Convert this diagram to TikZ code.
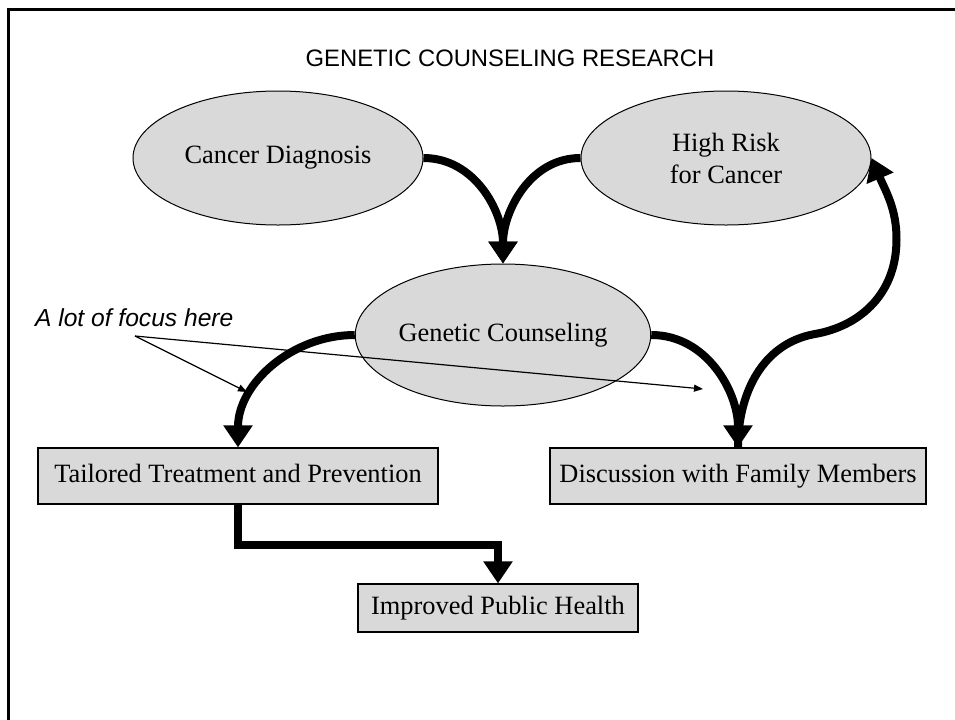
\documentclass[tikz,border=0pt]{standalone}
\usepackage{fontspec}
\setmainfont{Liberation Serif}
\setsansfont{Liberation Sans}
\usetikzlibrary{arrows.meta,shapes.geometric,calc}
\definecolor{boxgray}{RGB}{217,217,217}
\newcommand\serifsz{\fontsize{13.2}{16}\selectfont}
\begin{document}
\begin{tikzpicture}[x=0.5pt,y=0.5pt,
  oval/.style={ellipse,draw=black,line width=0.5pt,fill=boxgray,inner sep=0pt,
    minimum width=145pt,minimum height=67pt,font=\serifsz,align=center},
  box/.style={rectangle,draw=black,line width=0.6pt,fill=boxgray,inner sep=0pt,
    minimum height=28pt,font=\serifsz,text height=0.8em,text depth=0.12em},
  flow/.style={line width=4pt,-{Triangle[length=11pt,width=14pt]}},
  pointer/.style={line width=0.6pt,-{Triangle[length=4.5pt,width=3.5pt]}},
  frameline/.style={line width=1.5pt}]
\clip (0,0) rectangle (955,-719);
\useasboundingbox (0,0) rectangle (955,-719);
\fill[white] (0,0) rectangle (955,-719);
\draw[frameline] (8.5,-740) -- (8.5,-9.5) -- (970,-9.5);

\node[font=\sffamily\fontsize{11.9}{14}\selectfont] (title) at (510,-58) {GENETIC COUNSELING RESEARCH};
\node[oval] (cd) at (278,-158) {Cancer Diagnosis};
\node[oval] (hr) at (726,-158) {High Risk\\for Cancer};
\node[oval,minimum height=71pt] (gc) at (503,-335) {Genetic Counseling};
\node[box,minimum width=200pt] (tt) at (238,-476) {Tailored Treatment and Prevention};
\node[box,minimum width=188pt] (dm) at (738,-476) {Discussion with Family Members};
\node[box,minimum width=140pt,minimum height=24pt] (ip) at (498,-608) {Improved Public Health};
\node[anchor=west,font=\sffamily\itshape\fontsize{12.3}{14}\selectfont] (focus) at (28,-318) {A lot of focus here};

\coordinate (bend) at (0,-545);
\coordinate (w1) at (815,-334);
\coordinate (w2) at (896,-250);
\coordinate (fs) at (135,-336);
\coordinate (fa) at (247,-392);
\coordinate (fb) at (703,-389);

\draw[flow] (cd.east) to[out=0,in=90] (gc.north);
\draw[flow] (hr.west) to[out=180,in=90] (gc.north);
\draw[flow] (gc.west) to[out=180,in=90] (tt.north);
\draw[flow] (gc.east) to[out=0,in=90] (dm.north);
\draw[flow] (dm.north) to[out=90,in=190] (w1) to[out=10,in=-95] (w2) to[out=85,in=-67] (hr.east);
\draw[flow,line join=miter] (tt.south) -- (tt.south |- bend) -| (ip.north);

\draw[pointer] (fs) -- (fa);
\draw[pointer] (fs) -- (fb);
\end{tikzpicture}
\end{document}
